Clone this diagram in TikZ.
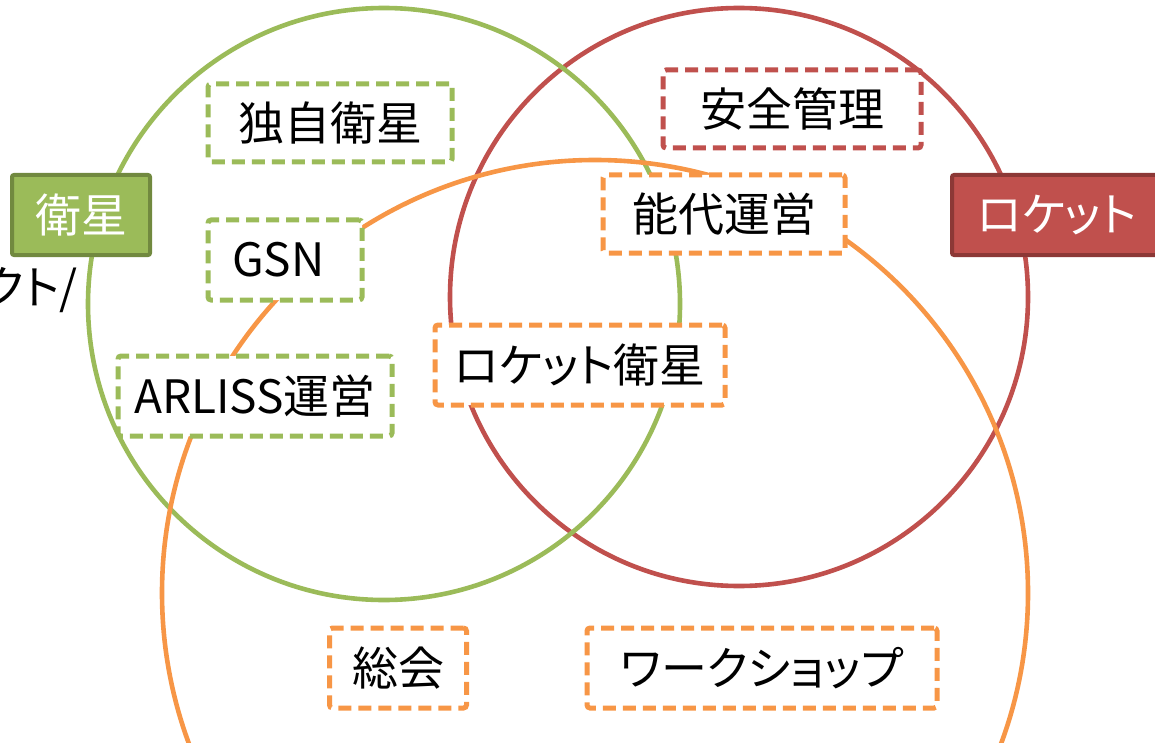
\documentclass[tikz,border=0pt]{standalone}
\usepackage{fontspec}
\setmainfont{Noto Sans CJK JP}[RawFeature={+palt}]
\definecolor{cgreen}{HTML}{9BBB59}
\definecolor{cgreendk}{HTML}{71893F}
\definecolor{cred}{HTML}{C0504D}
\definecolor{creddk}{HTML}{8C3836}
\definecolor{corange}{HTML}{F79646}
\tikzset{
  ring/.style={line width=4.6pt},
  tagbox/.style={draw, fill=white, line width=5pt, dash pattern=on 13pt off 7pt,
     rounded corners=3pt, inner sep=0pt, font=\fontsize{46}{52}\selectfont, text=black},
  gtag/.style={tagbox, draw=cgreen},
  rtag/.style={tagbox, draw=cred},
  otag/.style={tagbox, draw=corange},
  lbl/.style={line width=4pt, rounded corners=2pt, inner sep=0pt, text=white,
     font=\fontsize{46}{52}\selectfont, minimum height=80pt}
}
\begin{document}
\begin{tikzpicture}[x=1pt,y=-1pt]
\useasboundingbox (0,0) rectangle (1155,743);
\clip (0,0) rectangle (1155,743);
% circles
\draw[ring, cred] (739,297) circle[radius=289pt];
\draw[ring, cgreen] (384,304) circle[radius=296pt];
\draw[ring, corange] (595,593) circle[radius=433pt];
% green items
\node[gtag, minimum width=244pt, minimum height=78pt] (dokuji) at (330,123) {独自衛星};
\node[gtag, minimum height=80pt, text width=106pt, inner xsep=24pt, align=left] (gsn) at (285,260) {GSN};
\node[gtag, minimum width=274pt, minimum height=80pt] (arliss) at (255,396) {ARLISS運営};
% red items
\node[rtag, minimum width=258pt, minimum height=78pt] (anzen) at (792,109) {安全管理};
% orange items
\node[otag, minimum width=242pt, minimum height=78pt] (noshiro) at (724,214) {能代運営};
\node[otag, minimum width=290pt, minimum height=80pt] (rocketsat) at (580,365) {ロケット衛星};
\node[otag, minimum width=137pt, minimum height=80pt] (sokai) at (398,668) {総会};
\node[otag, minimum width=350pt, minimum height=80pt] (ws) at (762,668) {ワークショップ};
% category labels
\node[lbl, fill=cgreen, draw=cgreendk, minimum width=138pt] (eisei) at (81,215) {衛星};
\node[lbl, fill=cred, draw=creddk, anchor=west, text width=200pt, inner xsep=25pt, align=left] (rocket) at (950,215) {ロケット};
\node[anchor=east, inner sep=0pt, font=\fontsize{46}{52}\selectfont] (proj) at (78,290) {クト/};
\end{tikzpicture}
\end{document}
